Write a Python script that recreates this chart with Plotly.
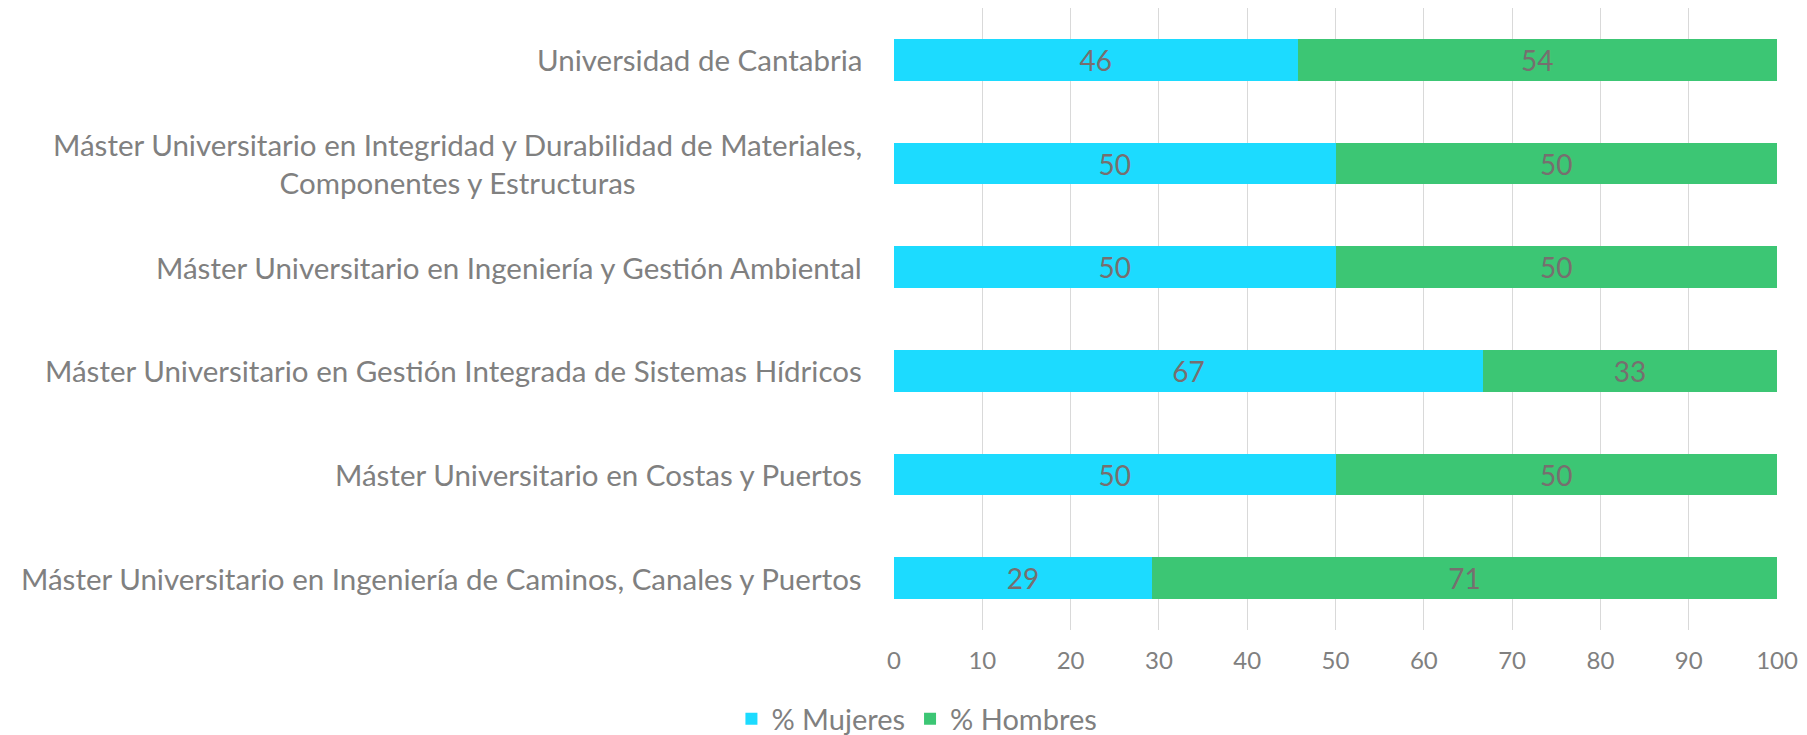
import plotly.graph_objects as go

# ── data (top to bottom, as drawn) ───────────────────────────────────────────
programas = [
    "Universidad de Cantabria",
    "Máster Universitario en Integridad y Durabilidad de Materiales,<br>Componentes y Estructuras",
    "Máster Universitario en Ingeniería y Gestión Ambiental",
    "Máster Universitario en Gestión Integrada de Sistemas Hídricos",
    "Máster Universitario en Costas y Puertos",
    "Máster Universitario en Ingeniería de Caminos, Canales y Puertos",
]
pct_mujeres = [45.7, 50, 50, 66.7, 50, 29.2]
pct_hombres = [54.3, 50, 50, 33.3, 50, 70.8]
x_ticks = [0, 10, 20, 30, 40, 50, 60, 70, 80, 90, 100]

FONT = "Lato, 'Open Sans', sans-serif"
GREY = "#808080"
LABEL = "#776f6f"

fig = go.Figure()
for name, vals, colour in [("% Mujeres", pct_mujeres, "#1cdbff"),
                           ("% Hombres", pct_hombres, "#3cc674")]:
    fig.add_trace(go.Bar(
        y=programas, x=vals, name=name, orientation="h",
        marker=dict(color=colour, line=dict(width=0)),
        texttemplate="%{x:.0f}", textposition="inside",
        insidetextanchor="middle", textangle=0,
        textfont=dict(family=FONT, size=28, color=LABEL),
    ))

# category labels as annotations so wrapped lines stay centred
for p in programas:
    fig.add_annotation(
        x=0, xref="paper", y=p, yref="y", xanchor="right", xshift=-30,
        text=p, showarrow=False, align="center",
        font=dict(family=FONT, size=29.5, color=GREY),
    )

# the page body has an 8px margin, so the figure is offset by it
fig.update_layout(
    width=1791, height=727,
    barmode="stack", bargap=0.6,
    plot_bgcolor="white", paper_bgcolor="white",
    margin=dict(l=886, r=22, t=0, b=105),
    font=dict(family=FONT, color=GREY),
    xaxis=dict(range=[0, 100], tickvals=x_ticks, showgrid=True,
               gridcolor="#d9d9d9", gridwidth=1, zeroline=False,
               showline=False, ticklabelstandoff=14,
               tickfont=dict(family=FONT, size=24, color=GREY)),
    yaxis=dict(autorange="reversed", showticklabels=False,
               showgrid=False, zeroline=False),
    legend=dict(orientation="h", xref="container", yref="container",
                x=0.5075, y=0.022, xanchor="center", yanchor="middle",
                font=dict(family=FONT, size=29, color=GREY),
                itemwidth=30, traceorder="normal"),
)

fig.write_html("out.html")
